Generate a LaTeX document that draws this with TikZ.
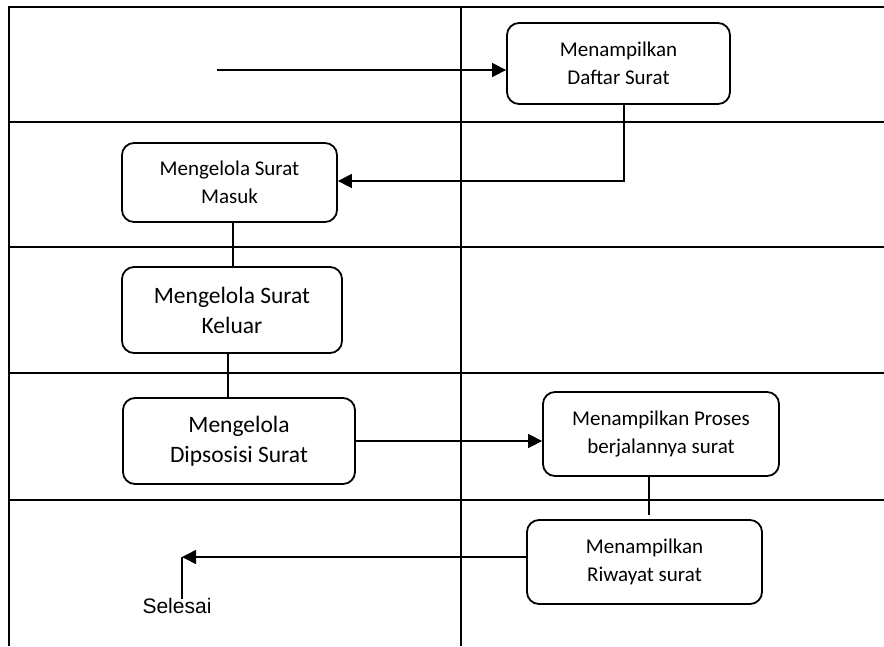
\documentclass[tikz,border=0pt]{standalone}
\usepackage{fontspec}
\setmainfont{Carlito}
\newfontfamily\arialfont{Liberation Sans}
\usetikzlibrary{calc, arrows.meta}

\begin{document}
\begin{tikzpicture}[x=1pt, y=-1pt, >={Triangle[length=14pt, width=14pt]}]

    % --- Cadre ---
    \def\L{9}        % bord gauche
    \def\T{7}        % bord haut
    \def\Rb{884}     % bord droit
    \def\B{646}      % bord bas
    \def\Mid{461}    % séparateur des colonnes

    \useasboundingbox (0,0) rectangle (884,646);

    % --- Styles ---
    \tikzstyle{lane} = [line width=1.8pt]
    \tikzstyle{act} = [draw, line width=1.8pt, rounded corners=12pt, align=center, inner sep=2pt, font=\fontsize{21}{28}\selectfont]
    \tikzstyle{actbig} = [act, font=\fontsize{23.5}{30}\selectfont]
    \tikzstyle{flow} = [line width=1.6pt]

    % --- Couloirs ---
    \draw[lane] (\L,\B) -- (\L,\T) -- (\Rb,\T);
    \draw[lane] (\Mid,\T) -- (\Mid,\B);
    \foreach \y in {122, 247, 373, 500}
        \draw[lane] (\L,\y) -- (\Rb,\y);

    % --- Activités ---
    \node[act, minimum width=223pt, minimum height=81pt] (daftar) at (618.5,63.5) {Menampilkan\\Daftar Surat};
    \node[act, minimum width=215pt, minimum height=79pt] (masuk) at (229.5,182.5) {Mengelola Surat\\Masuk};
    \node[actbig, minimum width=220pt, minimum height=86pt] (keluar) at (232,310) {Mengelola Surat\\Keluar};
    \node[actbig, minimum width=232pt, minimum height=86pt] (disposisi) at (239,441) {Mengelola\\Dipsosisi Surat};
    \node[act, minimum width=236pt, minimum height=84pt] (proses) at (661,434) {Menampilkan Proses\\berjalannya surat};
    \node[act, minimum width=235pt, minimum height=84pt] (riwayat) at (644.5,562) {Menampilkan\\Riwayat surat};

    % --- Début et fin ---
    \coordinate (mulai) at (217,70);
    \coordinate (akhir) at (182,557);
    \node[font=\arialfont\fontsize{21}{24}\selectfont, inner sep=0pt] (selesai) at (177,606) {Selesai};

    % --- Flux ---
    \draw[flow, ->] (mulai) -- (mulai -| daftar.west);
    \draw[flow, ->] ([xshift=5.5pt]daftar.south) |- ([yshift=1.5pt]masuk.east);
    \draw[flow] ([xshift=3.5pt]masuk.south) -- ([xshift=3.5pt]masuk.south |- keluar.north);
    \draw[flow] ([xshift=-4pt]keluar.south) -- ([xshift=-4pt]keluar.south |- disposisi.north);
    \draw[flow, ->] (disposisi.east) -- (disposisi.east -| proses.west);
    \draw[flow] ([xshift=-12pt]proses.south) -- ([xshift=-12pt,yshift=4pt]proses.south |- riwayat.north);
    \draw[flow, ->] (akhir -| riwayat.west) -- (akhir);
    \draw[flow] (akhir) -- ([yshift=-1pt]selesai.north -| akhir);

\end{tikzpicture}
\end{document}
